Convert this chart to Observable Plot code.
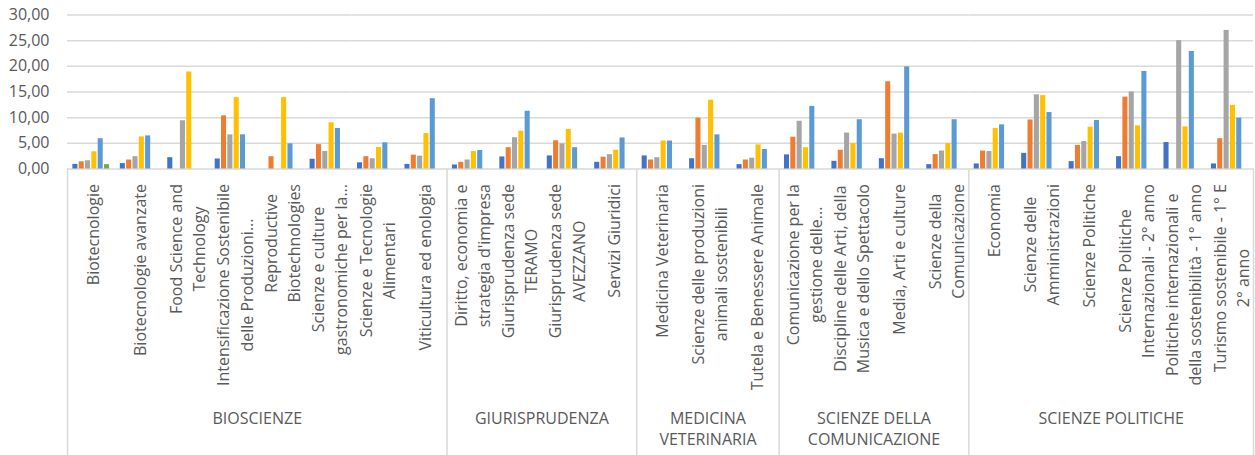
<!DOCTYPE html>
<html>
<head>
<meta charset="utf-8">
<script src="https://cdn.jsdelivr.net/npm/d3@7"></script>
<script src="https://cdn.jsdelivr.net/npm/@observablehq/plot@0.6"></script>
<style>
  html, body { margin: 0; padding: 0; background: #ffffff; }
  #chart { width: 1255px; height: 455px; }
</style>
</head>
<body>
<div id="chart"></div>
<script>
// ---- data ----
const courses = [
  "Biotecnologie", "Biotecnologie avanzate", "Food Science and Technology",
  "Intensificazione Sostenibile delle Produzioni...", "Reproductive Biotechnologies",
  "Scienze e culture gastronomiche per la...", "Scienze e Tecnologie Alimentari",
  "Viticultura ed enologia",
  "Diritto, economia e strategia d'impresa", "Giurisprudenza sede TERAMO",
  "Giurisprudenza sede AVEZZANO", "Servizi Giuridici",
  "Medicina Veterinaria", "Scienze delle produzioni animali sostenibili",
  "Tutela e Benessere Animale",
  "Comunicazione per la gestione delle...", "Discipline delle Arti, della Musica e dello Spettacolo",
  "Media, Arti e culture", "Scienze della Comunicazione",
  "Economia", "Scienze delle Amministrazioni", "Scienze Politiche",
  "Scienze Politiche Internazionali - 2° anno",
  "Politiche internazionali e della sostenibilità - 1° anno",
  "Turismo sostenibile - 1° E 2° anno"
];
const courseLabels = [
  "Biotecnologie", "Biotecnologie avanzate", "Food Science and\nTechnology",
  "Intensificazione Sostenibile\ndelle Produzioni...", "Reproductive\nBiotechnologies",
  "Scienze e culture\ngastronomiche per la...", "Scienze e Tecnologie\nAlimentari",
  "Viticultura ed enologia",
  "Diritto, economia e\nstrategia d'impresa", "Giurisprudenza sede\nTERAMO",
  "Giurisprudenza sede\nAVEZZANO", "Servizi Giuridici",
  "Medicina Veterinaria", "Scienze delle produzioni\nanimali sostenibili",
  "Tutela e Benessere Animale",
  "Comunicazione per la\ngestione delle...", "Discipline delle Arti, della\nMusica e dello Spettacolo",
  "Media, Arti e culture", "Scienze della\nComunicazione",
  "Economia", "Scienze delle\nAmministrazioni", "Scienze Politiche",
  "Scienze Politiche\nInternazionali - 2° anno",
  "Politiche internazionali e\ndella sostenibilità - 1° anno",
  "Turismo sostenibile - 1° E\n2° anno"
];
const departments = ["BIOSCIENZE", "GIURISPRUDENZA", "MEDICINA VETERINARIA", "SCIENZE DELLA COMUNICAZIONE", "SCIENZE POLITICHE"];
const departmentLabels = ["BIOSCIENZE", "GIURISPRUDENZA", "MEDICINA\nVETERINARIA", "SCIENZE DELLA\nCOMUNICAZIONE", "SCIENZE POLITICHE"];
const departmentSizes = [8, 4, 3, 4, 6];

const seriesNames = ["Serie 1", "Serie 2", "Serie 3", "Serie 4", "Serie 5", "Serie 6"];
const series1 = [0.90, 1.05, 2.20, 1.95, null, 1.90, 1.20, 0.90, 0.78, 2.35, 2.55, 1.30, 2.55, 2.00, 0.85, 2.75, 1.50, 2.00, 0.85, 0.98, 3.05, 1.43, 2.40, 5.15, 0.98];
const series2 = [1.40, 1.75, null, 10.35, 2.40, 4.75, 2.40, 2.70, 1.30, 4.15, 5.50, 2.30, 1.75, 9.90, 1.75, 6.20, 3.65, 17.00, 2.80, 3.50, 9.55, 4.60, 14.00, null, 5.90];
const series3 = [1.60, 2.40, 9.40, 6.65, null, 3.40, 2.00, 2.50, 1.75, 6.10, 4.90, 2.80, 2.20, 4.60, 2.10, 9.30, 7.00, 6.80, 3.50, 3.40, 14.45, 5.35, 15.00, 25.00, 27.00];
const series4 = [3.35, 6.25, 18.90, 13.90, 13.90, 9.00, 4.20, 6.90, 3.40, 7.35, 7.70, 3.65, 5.45, 13.40, 4.70, 4.15, 4.95, 7.00, 4.95, 7.90, 14.30, 8.15, 8.40, 8.20, 12.40];
const series5 = [5.90, 6.45, null, 6.65, 4.90, 7.90, 5.10, 13.70, 3.60, 11.25, 4.15, 6.05, 5.45, 6.65, 3.80, 12.20, 9.60, 19.90, 9.60, 8.60, 11.00, 9.45, 19.00, 22.90, 9.90];
const series6 = [0.85, null, null, null, null, null, null, null, null, null, null, null, null, null, null, null, null, null, null, null, null, null, null, null, null];
const seriesColors = ["#4472C4", "#ED7D31", "#A5A5A5", "#FFC000", "#5B9BD5", "#70AD47"];
const yTicks = [0, 5, 10, 15, 20, 25, 30];

// ---- build table ----
const allSeries = [series1, series2, series3, series4, series5, series6];
const rows = [];
courses.forEach((c, i) => {
  allSeries.forEach((s, j) => {
    if (s[i] != null) rows.push({course: c, series: seriesNames[j], value: s[i]});
  });
});
const deptInfo = [];
let k = 0;
departments.forEach((d, i) => {
  deptInfo.push({dept: d, label: departmentLabels[i], first: courses[k], n: departmentSizes[i]});
  k += departmentSizes[i];
});

// ---- layout ----
const W = 1255, H = 455;
const mL = 67, mR = 2, mT = 14.5, mB = 286.5;
const frameH = H - mT - mB;
const facetW = (W - mL - mR) / courses.length;
const gray = "#595959";
const lineGray = "#d9d9d9";
const font = "'Open Sans', sans-serif";

const deptMarks = deptInfo.map(d =>
  Plot.text([d], {
    fx: r => r.first, text: r => r.label, frameAnchor: "bottom",
    dx: (d.n - 1) * facetW / 2, dy: 240, lineAnchor: "top", lineHeight: 1.33,
    fontSize: 16, fill: gray, textAnchor: "middle"
  })
);

const chart = Plot.plot({
  width: W, height: H,
  marginLeft: mL, marginRight: mR, marginTop: mT, marginBottom: mB,
  style: {fontFamily: font, fontSize: "16px", color: gray, background: "#ffffff", overflow: "visible"},
  fx: {domain: courses, padding: 0, round: false, axis: null, label: null},
  x: {domain: seriesNames, paddingInner: 0.2, paddingOuter: 0.85, round: false, axis: null, label: null},
  y: {domain: [0, 30], axis: null, label: null},
  color: {domain: seriesNames, range: seriesColors},
  marks: [
    Plot.gridY(yTicks, {stroke: lineGray, strokeOpacity: 1, strokeWidth: 1.5}),
    Plot.barY(rows, {fx: "course", x: "series", y: "value", fill: "series"}),
    Plot.axisY(yTicks, {
      tickSize: 0, tickPadding: 18, fontSize: 16, fill: gray, label: null,
      tickFormat: d => d.toFixed(2).replace(".", ",")
    }),
    Plot.text(courses, {
      fx: d => d, text: (d, i) => courseLabels[i], frameAnchor: "bottom",
      rotate: -90, textAnchor: "middle", lineAnchor: "middle", lineHeight: 1.45,
      fontSize: 16, fill: gray, className: "course-label"
    }),
    ...deptMarks,
    Plot.ruleX(deptInfo, {fx: d => d.first, x: null, dx: -facetW / 2, insetTop: frameH, insetBottom: -mB, stroke: lineGray, strokeWidth: 1.5}),
    Plot.ruleX([courses[courses.length - 1]], {fx: d => d, x: null, dx: facetW / 2, insetTop: frameH, insetBottom: -mB, stroke: lineGray, strokeWidth: 1.5})
  ]
});
document.getElementById("chart").append(chart);

// top-align each rotated course label block (lines stay centered within the block)
const svgTop = chart.getBoundingClientRect().top;
chart.querySelectorAll(".course-label text").forEach(t => {
  const r = t.getBoundingClientRect();
  const shift = 184 - (r.top - svgTop);
  t.setAttribute("transform", `translate(0,${shift}) ${t.getAttribute("transform") || ""}`);
});
</script>
</body>
</html>
